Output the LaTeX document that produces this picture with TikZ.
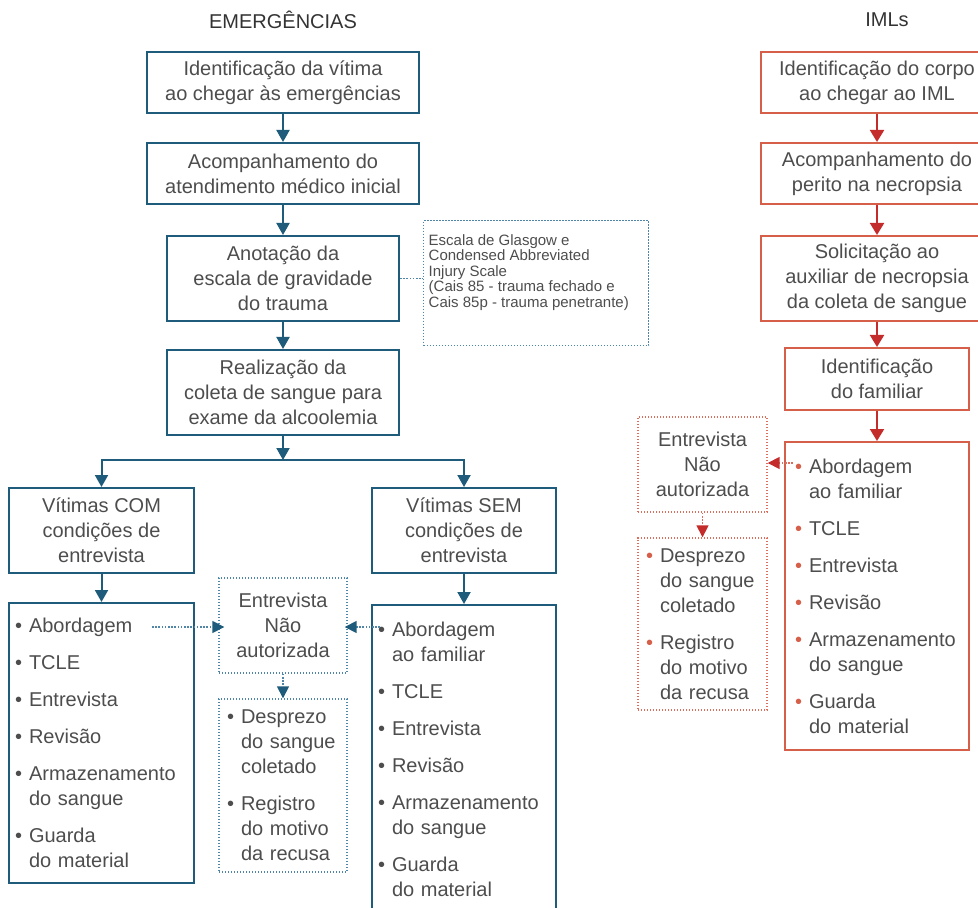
\documentclass[tikz,border=0pt]{standalone}
\usepackage{fontspec}
\setmainfont{Liberation Sans}
\usetikzlibrary{arrows.meta}

\definecolor{emblue}{HTML}{1F5B7A}
\definecolor{emdot}{HTML}{4F86A8}
\definecolor{imlred}{HTML}{D65F4A}
\definecolor{imldark}{HTML}{C42B2B}
\definecolor{imldot}{HTML}{DC6E5E}
\definecolor{txtgray}{HTML}{4D4D4D}

\newcommand{\bul}[1]{\makebox[7pt][l]{\textcolor{#1}{\textbullet}}}
\newcommand{\ind}{\hspace*{7pt}}

\tikzset{
    flow/.style={draw, line width=1pt, text=txtgray, align=center, inner sep=2pt,
        font=\fontsize{10}{12.5}\selectfont},
    title/.style={text=black!80, font=\fontsize{10}{12}\selectfont},
    bluebox/.style={flow, draw=emblue},
    redbox/.style={flow, draw=imlred},
    bluelist/.style={bluebox, align=left, inner xsep=3pt},
    redlist/.style={redbox, align=left, inner xsep=5pt},
    bluenote/.style={flow, draw=emdot, line width=0.7pt, dash pattern=on 0.7pt off 0.8pt},
    rednote/.style={flow, draw=imldot, line width=0.7pt, dash pattern=on 0.7pt off 0.8pt},
    bluearrow/.style={emblue, line width=1pt, -{Triangle[width=6.5pt,length=6pt]}},
    redarrow/.style={imldark, line width=1pt, -{Triangle[width=7pt,length=6pt]}},
    bluedot/.style={emdot, line width=0.8pt, dash pattern=on 0.8pt off 0.8pt},
    bluedotarrow/.style={bluedot, -{Triangle[width=6pt,length=6pt,color=emblue]}},
    reddotarrow/.style={imldot, line width=0.8pt, dash pattern=on 0.8pt off 0.8pt,
        -{Triangle[width=6pt,length=6pt,color=imldark]}}
}

\begin{document}
\begin{tikzpicture}[x=0.5pt,y=-0.5pt]
    \clip (0,0) rectangle (978,908);
    \node[title] (tem) at (283,20) {EMERGÊNCIAS};
    \node[title] (timl) at (887,20) {IMLs};

    \node[bluebox, minimum width=136pt, minimum height=30.5pt] (e1) at (283,82.5) {Identificação da vítima\\ao chegar às emergências};
    \node[bluebox, minimum width=136pt, minimum height=30.5pt] (e2) at (283,173.5) {Acompanhamento do\\atendimento médico inicial};
    \node[bluebox, minimum width=116pt, minimum height=42.5pt] (e3) at (283,278.5) {Anotação da\\escala de gravidade\\do trauma};
    \node[bluebox, minimum width=116pt, minimum height=42.5pt] (e4) at (283,392.5) {Realização da\\coleta de sangue para\\exame da alcoolemia};
    \node[bluenote, anchor=north west, inner sep=2.5pt] (escala) at (423,220) {\parbox[t][57.5pt][t]{107.5pt}{\raggedright\fontsize{7.5}{7.7}\selectfont\vspace*{4.5pt}Escala de Glasgow e\\Condensed Abbreviated\\Injury Scale\\(Cais 85 - trauma fechado e\\Cais 85p - trauma penetrante)}};
    \draw[bluedot] (e3.east) -- (e3.east -| escala.west);

    \coordinate (split) at (283,460);
    \node[bluebox, minimum width=92.5pt, minimum height=42.5pt] (com) at (101.5,530.5) {Vítimas COM\\condições de\\entrevista};
    \node[bluebox, minimum width=92pt, minimum height=42.5pt] (sem) at (464,530.5) {Vítimas SEM\\condições de\\entrevista};
    \node[bluelist, text width=86.5pt, minimum height=140pt] (comlist) at (101.5,743) {\bul{txtgray}Abordagem\\[6pt]\bul{txtgray}TCLE\\[6pt]\bul{txtgray}Entrevista\\[6pt]\bul{txtgray}Revisão\\[6pt]\bul{txtgray}Armazenamento\\\ind do sangue\\[6pt]\bul{txtgray}Guarda\\\ind do material};
    \node[bluelist, text width=86pt, minimum height=154pt] (semlist) at (464,759) {\bul{txtgray}Abordagem\\\ind ao familiar\\[6pt]\bul{txtgray}TCLE\\[6pt]\bul{txtgray}Entrevista\\[6pt]\bul{txtgray}Revisão\\[6pt]\bul{txtgray}Armazenamento\\\ind do sangue\\[6pt]\bul{txtgray}Guarda\\\ind do material};
    \node[bluenote, minimum width=64pt, minimum height=47.5pt] (naoaut) at (283,625.5) {Entrevista\\Não\\autorizada};
    \node[bluenote, align=left, text width=56pt, inner xsep=4pt, minimum height=86.5pt] (desprezo) at (283,785.5) {\bul{txtgray}Desprezo\\\ind do sangue\\\ind coletado\\[6pt]\bul{txtgray}Registro\\\ind do motivo\\\ind da recusa};

    \draw[bluearrow] (e1) -- (e2);
    \draw[bluearrow] (e2) -- (e3);
    \draw[bluearrow] (e3) -- (e4);
    \draw[bluearrow] (e4) -- (split);
    \draw[bluearrow] (split) -| (com);
    \draw[bluearrow] (split) -| (sem);
    \draw[bluearrow] (com) -- (comlist);
    \draw[bluearrow] (sem) -- (semlist);

    \coordinate (comab) at (152,627);
    \coordinate (semab) at (380,627);
    \draw[bluedotarrow, shorten >=-3pt] (comab) -- (comab -| naoaut.west);
    \draw[bluedotarrow, shorten >=-1.5pt] (semab) -- (semab -| naoaut.east);
    \draw[bluedotarrow] (naoaut) -- (desprezo);

    \node[redbox, minimum width=116pt, minimum height=30.5pt] (i1) at (877,82.5) {Identificação do corpo\\ao chegar ao IML};
    \node[redbox, minimum width=116pt, minimum height=30.5pt] (i2) at (877,173.5) {Acompanhamento do\\perito na necropsia};
    \node[redbox, minimum width=116pt, minimum height=42.5pt] (i3) at (877,278.5) {Solicitação ao\\auxiliar de necropsia\\da coleta de sangue};
    \node[redbox, minimum width=92pt, minimum height=31pt] (i4) at (877,379) {Identificação\\do familiar};
    \node[redlist, text width=82pt, minimum height=154pt] (ilist) at (877,596) {\bul{imlred}Abordagem\\\ind ao familiar\\[6pt]\bul{imlred}TCLE\\[6pt]\bul{imlred}Entrevista\\[6pt]\bul{imlred}Revisão\\[6pt]\bul{imlred}Armazenamento\\\ind do sangue\\[6pt]\bul{imlred}Guarda\\\ind do material};
    \node[rednote, minimum width=64.5pt, minimum height=47.5pt] (inao) at (702.5,464.5) {Entrevista\\Não\\autorizada};
    \node[rednote, align=left, text width=56.5pt, inner xsep=4pt, minimum height=86pt] (idesp) at (702.5,624) {\bul{imlred}Desprezo\\\ind do sangue\\\ind coletado\\[6pt]\bul{imlred}Registro\\\ind do motivo\\\ind da recusa};

    \draw[redarrow] (i1) -- (i2);
    \draw[redarrow] (i2) -- (i3);
    \draw[redarrow] (i3) -- (i4);
    \draw[redarrow] (i4) -- (ilist);
    \coordinate (imlab) at (793,463);
    \draw[reddotarrow] (imlab) -- (imlab -| inao.east);
    \draw[reddotarrow] (inao) -- (idesp);
\end{tikzpicture}
\end{document}
